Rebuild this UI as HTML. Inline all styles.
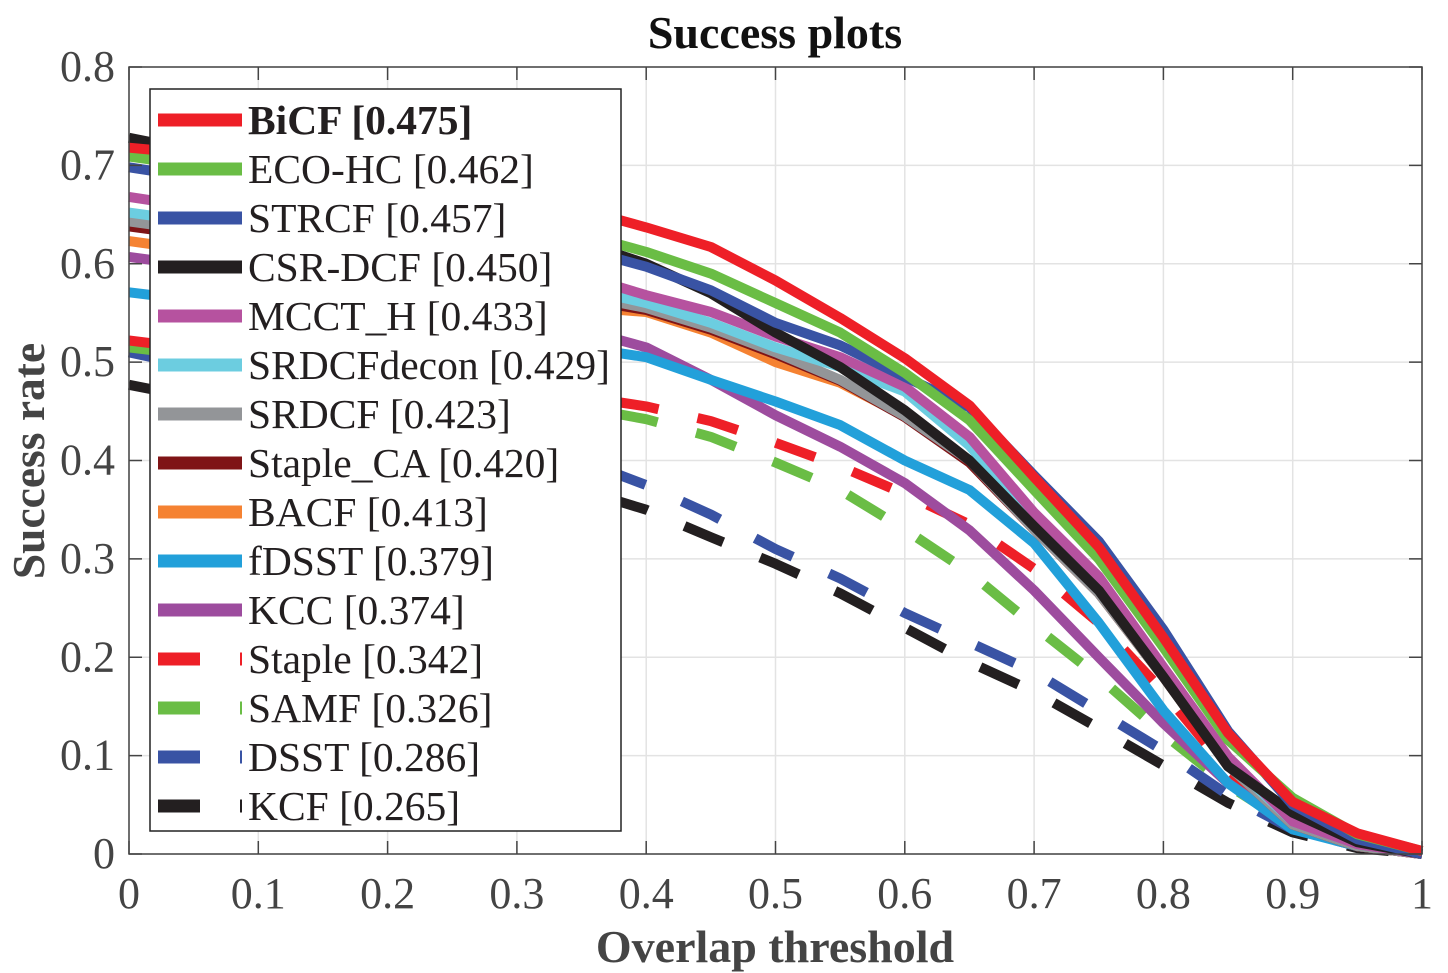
<!DOCTYPE html>
<html><head><meta charset="utf-8"><style>
html,body{margin:0;padding:0;background:#fff}
svg{display:block;font-family:"Liberation Serif",serif}
</style></head><body>
<svg id="chart" width="1448" height="973" viewBox="0 0 1448 973" xmlns="http://www.w3.org/2000/svg"></svg>
<script>
const xs = [0,0.05,0.1,0.15,0.2,0.25,0.3,0.35,0.4,0.45,0.5,0.55,0.6,0.65,0.7,0.75,0.8,0.85,0.9,0.95,1];
const xTicks = [0,0.1,0.2,0.3,0.4,0.5,0.6,0.7,0.8,0.9,1];
const xTickLabels = ["0","0.1","0.2","0.3","0.4","0.5","0.6","0.7","0.8","0.9","1"];
const yTicks = [0,0.1,0.2,0.3,0.4,0.5,0.6,0.7,0.8];
const yTickLabels = ["0","0.1","0.2","0.3","0.4","0.5","0.6","0.7","0.8"];
const names = ["BiCF [0.475]","ECO-HC [0.462]","STRCF [0.457]","CSR-DCF [0.450]","MCCT_H [0.433]","SRDCFdecon [0.429]","SRDCF [0.423]","Staple_CA [0.420]","BACF [0.413]","fDSST [0.379]","KCC [0.374]","Staple [0.342]","SAMF [0.326]","DSST [0.286]","KCF [0.265]"];
const colors = ["#ee1f27","#6abd45","#3953a4","#231f20","#b6529f","#6ccde0","#939598","#7f1416","#f58232","#22a0da","#9d4c9e","#ee1f27","#6abd45","#3953a4","#231f20"];
const dashed = [false,false,false,false,false,false,false,false,false,false,false,true,true,true,true];
const sBiCF   = [0.718,0.712,0.705,0.697,0.688,0.678,0.667,0.655,0.637,0.617,0.583,0.545,0.504,0.456,0.383,0.312,0.22,0.123,0.053,0.021,0.003];
const sECO    = [0.709,0.700,0.690,0.680,0.668,0.656,0.644,0.630,0.612,0.590,0.560,0.530,0.489,0.441,0.370,0.300,0.210,0.116,0.057,0.020,0.003];
const sSTRCF  = [0.698,0.688,0.678,0.667,0.655,0.643,0.630,0.615,0.597,0.573,0.540,0.517,0.485,0.454,0.385,0.318,0.228,0.125,0.050,0.015,0.0];
const sCSR    = [0.728,0.715,0.700,0.685,0.670,0.655,0.640,0.622,0.600,0.570,0.530,0.495,0.451,0.400,0.333,0.268,0.180,0.089,0.042,0.012,0.0];
const sMCCT   = [0.668,0.658,0.648,0.638,0.627,0.615,0.603,0.588,0.568,0.551,0.526,0.505,0.475,0.424,0.347,0.282,0.190,0.099,0.033,0.010,0.0];
const sDecon  = [0.652,0.643,0.633,0.623,0.612,0.601,0.589,0.575,0.560,0.540,0.515,0.495,0.470,0.415,0.340,0.280,0.185,0.095,0.033,0.010,0.0];
const sSRDCF  = [0.643,0.634,0.624,0.614,0.603,0.592,0.580,0.568,0.555,0.535,0.510,0.482,0.445,0.400,0.330,0.265,0.180,0.090,0.030,0.008,0.0];
const sStCA   = [0.638,0.629,0.619,0.609,0.598,0.587,0.576,0.564,0.553,0.533,0.508,0.481,0.444,0.398,0.330,0.265,0.180,0.090,0.030,0.008,0.0];
const sBACF   = [0.623,0.614,0.604,0.594,0.584,0.574,0.564,0.556,0.551,0.530,0.500,0.479,0.445,0.400,0.330,0.265,0.180,0.090,0.030,0.008,0.0];
const sfDSST  = [0.571,0.563,0.556,0.548,0.540,0.532,0.524,0.515,0.505,0.482,0.460,0.436,0.400,0.370,0.316,0.235,0.146,0.072,0.025,0.008,0.0];
const sKCC    = [0.607,0.598,0.589,0.579,0.569,0.558,0.546,0.533,0.515,0.482,0.446,0.414,0.377,0.329,0.268,0.200,0.133,0.072,0.028,0.008,0.0];
const sStaple = [0.522,0.514,0.506,0.498,0.490,0.482,0.474,0.465,0.455,0.440,0.418,0.394,0.366,0.335,0.290,0.235,0.165,0.085,0.030,0.008,0.0];
const sSAMF   = [0.515,0.507,0.499,0.491,0.483,0.474,0.465,0.454,0.442,0.424,0.398,0.370,0.330,0.286,0.232,0.180,0.122,0.070,0.028,0.008,0.0];
const sDSST   = [0.510,0.496,0.482,0.468,0.454,0.439,0.421,0.400,0.375,0.345,0.310,0.280,0.245,0.215,0.185,0.145,0.105,0.060,0.025,0.008,0.0];
const sKCF    = [0.477,0.464,0.450,0.435,0.420,0.405,0.390,0.370,0.350,0.322,0.295,0.265,0.230,0.195,0.165,0.128,0.090,0.052,0.022,0.006,0.0];
const series = [sBiCF,sECO,sSTRCF,sCSR,sMCCT,sDecon,sSRDCF,sStCA,sBACF,sfDSST,sKCC,sStaple,sSAMF,sDSST,sKCF];
const seriesNames = ["bicf","eco-hc","strcf","csr-dcf","mcct-h","srdcfdecon","srdcf","staple-ca","bacf","fdsst","kcc","staple","samf","dsst","kcf"];

const L=129,R=1422,T=67,B=854;
const X=v=>L+(R-L)*v;
const Y=v=>B-(B-T)*v/0.8;
const NS="http://www.w3.org/2000/svg";
const svg=document.getElementById('chart');
function mk(tag,attrs,parent){const e=document.createElementNS(NS,tag);for(const k in attrs)e.setAttribute(k,attrs[k]);(parent||svg).appendChild(e);return e;}

xTicks.forEach((t,i)=>{
  const g=mk('line',{x1:X(t),x2:X(t),y1:T,y2:B,stroke:'#e3e3e3','stroke-width':1.5});
  
  
});
yTicks.forEach((t,i)=>{
  const g=mk('line',{x1:L,x2:R,y1:Y(t),y2:Y(t),stroke:'#e3e3e3','stroke-width':1.5});
  
  
});
for(let s=series.length-1;s>=0;s--){
  const d=series[s].map((v,i)=>(i?'L':'M')+X(xs[i]).toFixed(1)+','+Y(v).toFixed(1)).join(' ');
  const p=mk('path',{d:d,fill:'none',stroke:colors[s],'stroke-width':10,'stroke-linejoin':'round'});
  if(dashed[s])p.setAttribute('stroke-dasharray','42 40');
  
  
}
const box=mk('rect',{x:L,y:T,width:R-L,height:B-T,fill:'none',stroke:'#444','stroke-width':1.5});


xTicks.forEach((t,i)=>{
  mk('line',{x1:X(t),x2:X(t),y1:B,y2:B-13,stroke:'#444','stroke-width':1.5});
  mk('line',{x1:X(t),x2:X(t),y1:T,y2:T+13,stroke:'#444','stroke-width':1.5});
  const tx=mk('text',{x:X(t),y:908,'font-size':44,fill:'#444','text-anchor':'middle'});
  tx.textContent=xTickLabels[i];
  
  
});
yTicks.forEach((t,i)=>{
  mk('line',{x1:L,x2:L+13,y1:Y(t),y2:Y(t),stroke:'#444','stroke-width':1.5});
  mk('line',{x1:R,x2:R-13,y1:Y(t),y2:Y(t),stroke:'#444','stroke-width':1.5});
  const tx=mk('text',{x:115,y:Y(t)+14,'font-size':44,fill:'#444','text-anchor':'end'});
  tx.textContent=yTickLabels[i];
  
  
});
const lg=mk('g',{});


mk('rect',{x:150,y:89,width:471,height:742,fill:'#fff',stroke:'#222','stroke-width':1.5},lg);
names.forEach((n,i)=>{
  const cy=120+49*i;
  const g=mk('g',{},lg);
  
  
  const ln=mk('line',{x1:158,x2:242,y1:cy,y2:cy,stroke:colors[i],'stroke-width':13},g);
  if(dashed[i])ln.setAttribute('stroke-dasharray','42 40');
  const tx=mk('text',{x:248,y:cy+14,'font-size':41.5,fill:'#231f20'},g);
  if(i===0)tx.setAttribute('font-weight','bold');
  tx.textContent=n;
});
</script>
<svg style="position:absolute;left:0;top:0" width="1448" height="973">
<text x="775" y="48" text-anchor="middle" font-family="Liberation Serif, serif" font-weight="bold" font-size="46" fill="#111">Success plots</text>
<text x="775" y="962" text-anchor="middle" font-family="Liberation Serif, serif" font-weight="bold" font-size="46" fill="#444">Overlap threshold</text>
<text transform="translate(44,461) rotate(-90)" text-anchor="middle" font-family="Liberation Serif, serif" font-weight="bold" font-size="45.5" fill="#444">Success rate</text>
</svg>
</body></html>
